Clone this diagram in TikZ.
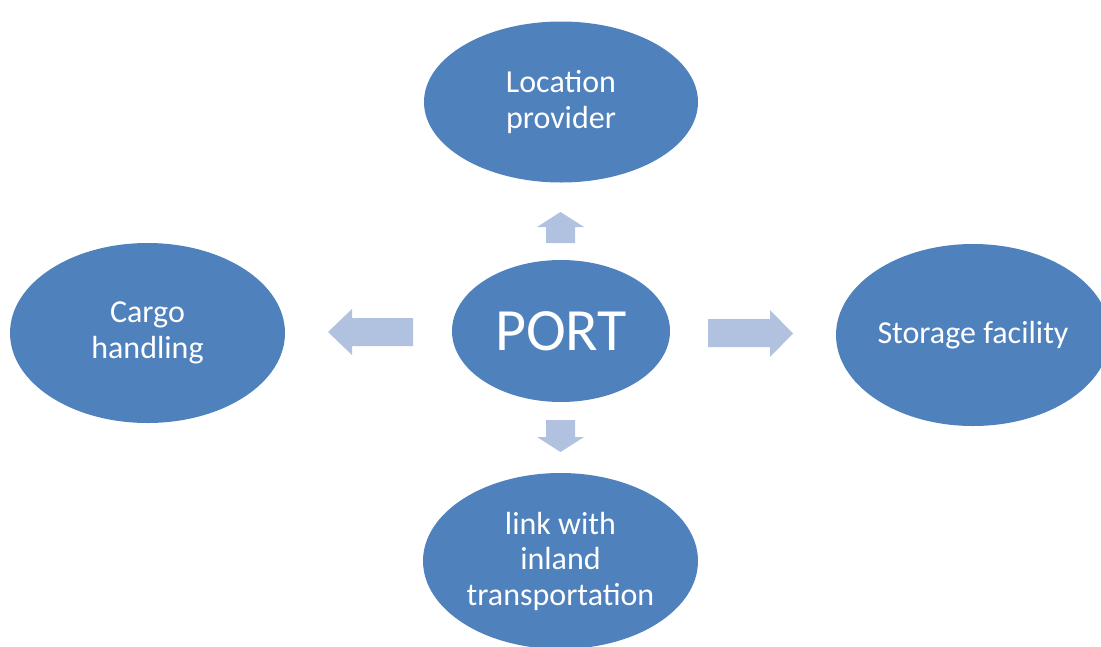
\documentclass[tikz,border=0pt]{standalone}
\usepackage{fontspec}
\setmainfont{Carlito}
\usetikzlibrary{shapes.geometric}
\definecolor{ellblue}{HTML}{4F81BD}
\definecolor{arrblue}{HTML}{B0C2DF}
\begin{document}
\begin{tikzpicture}[x=1pt,y=-1pt,
  bub/.style={ellipse,fill=ellblue,draw=none,inner sep=0pt,text=white,align=center,
    font=\fontsize{32}{35.5}\selectfont},
  blockarrow/.style={fill=arrblue,draw=none}]
\useasboundingbox (0,0) rectangle (1101,646);
\begin{scope}
\clip (0,0) rectangle (1101,646);
\node[bub,minimum width=274pt,minimum height=161pt] (top) at (561,102) {Location\\provider};
\node[bub,minimum width=218pt,minimum height=142pt,font=\fontsize{60}{64}\selectfont] (port) at (561,331) {PORT};
\node[bub,minimum width=275pt,minimum height=180pt] (left) at (147.5,333) {Cargo\\handling};
\node[bub,minimum width=274pt,minimum height=182pt] (right) at (973,335) {Storage facility};
\node[bub,minimum width=275pt,minimum height=176pt] (bottom) at (560.5,561) {link with\\inland\\transportation};
\end{scope}
% up arrow
\fill[blockarrow] (546,243) -- (546,227) -- (537,227) -- (560.5,212) -- (584,227) -- (575,227) -- (575,243) -- cycle;
% down arrow
\fill[blockarrow] (546,420) -- (546,437) -- (537,437) -- (560.5,452) -- (584,437) -- (575,437) -- (575,420) -- cycle;
% left arrow
\fill[blockarrow] (413,318) -- (352,318) -- (352,309) -- (328,332) -- (352,355) -- (352,346) -- (413,346) -- cycle;
% right arrow
\fill[blockarrow] (708,319) -- (770,319) -- (770,310) -- (793,333.5) -- (770,357) -- (770,347) -- (708,347) -- cycle;
\end{tikzpicture}
\end{document}
